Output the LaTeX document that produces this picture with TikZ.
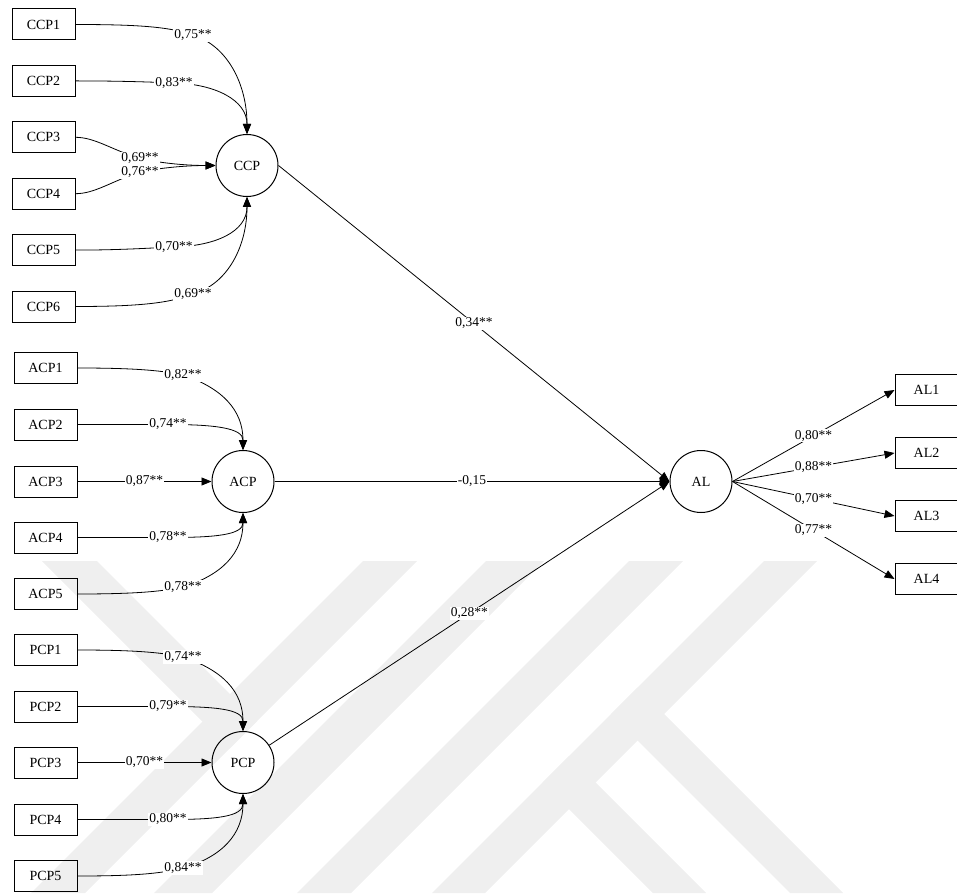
\documentclass[tikz,border=0pt]{standalone}
\usepackage{fontspec}
\setmainfont{Liberation Serif}
\usetikzlibrary{arrows.meta}
\definecolor{wm}{RGB}{239,239,239}
\begin{document}
\begin{tikzpicture}[x=1pt,y=-1pt,
  obs/.style={draw, line width=1pt, minimum width=63pt, minimum height=31pt, inner sep=0pt, font=\fontsize{14}{16}\selectfont},
  lat/.style={draw, circle, line width=1pt, minimum size=62pt, inner sep=0pt, font=\fontsize{14}{16}\selectfont},
  lab/.style={fill=white, inner sep=1pt, font=\fontsize{13.5}{15}\selectfont},
  arr/.style={line width=0.8pt, -{Triangle[length=10pt,width=8pt]}},
  wmark/.style={fill=wm, draw=none},
]
\useasboundingbox (0,0) rectangle (957,893);
% watermark
\fill[wmark] (363,561) -- (417,561) -- (85,893) -- (31,893) -- cycle;
\fill[wmark] (486,561) -- (544,561) -- (212,893) -- (154,893) -- cycle;
\fill[wmark] (629,561) -- (683,561) -- (351,893) -- (297,893) -- cycle;
\fill[wmark] (764,561) -- (817,561) -- (485,893) -- (432,893) -- cycle;
\fill[wmark] (637.5,687.5) -- (843,893) -- (790,893) -- (611,714) -- cycle;
\fill[wmark] (569,756) -- (706,893) -- (653,893) -- (542.5,782.5) -- cycle;
\fill[wmark] (42,561) -- (97,561) -- (257,721) -- (229.5,748.5) -- cycle;

% nodes
\node[obs] (ccp1) at (43.5,24.5) {CCP1};
\node[obs] (ccp2) at (43.5,80.9) {CCP2};
\node[obs] (ccp3) at (43.5,137.3) {CCP3};
\node[obs] (ccp4) at (43.5,193.7) {CCP4};
\node[obs] (ccp5) at (43.5,250.1) {CCP5};
\node[obs] (ccp6) at (43.5,306.5) {CCP6};
\node[lat] (ccp) at (247,165.5) {CCP};

\node[obs] (acp1) at (45.5,368) {ACP1};
\node[obs] (acp2) at (45.5,424.5) {ACP2};
\node[obs] (acp3) at (45.5,481.5) {ACP3};
\node[obs] (acp4) at (45.5,537.5) {ACP4};
\node[obs] (acp5) at (45.5,594) {ACP5};
\node[lat] (acp) at (243,481.5) {ACP};

\node[obs] (pcp1) at (45.5,650) {PCP1};
\node[obs] (pcp2) at (45.5,706.5) {PCP2};
\node[obs] (pcp3) at (45.5,762.5) {PCP3};
\node[obs] (pcp4) at (45.5,819.5) {PCP4};
\node[obs] (pcp5) at (45.5,876) {PCP5};
\node[lat] (pcp) at (243,762.5) {PCP};

\node[lat] (al) at (701,481.5) {AL};
\node[obs] (al1) at (926.5,390) {AL1};
\node[obs] (al2) at (926.5,453) {AL2};
\node[obs] (al3) at (926.5,516) {AL3};
\node[obs] (al4) at (926.5,579) {AL4};

% CCP indicators
\draw[arr] (ccp1.east) .. controls (140,24.5) and (170,27) .. (193,35) node[lab]{0,75**} .. controls (228,46) and (247,85) .. (ccp.north);
\draw[arr] (ccp2.east) .. controls (120,80.9) and (150,82) .. (174,83) node[lab]{0,83**} .. controls (215,84) and (247,100) .. (ccp.north);
\draw[arr] (ccp3.east) .. controls (95,137.3) and (112,150) .. (140,158.5) node[lab]{0,69**} .. controls (165,164) and (190,165.5) .. (ccp.west);
\draw[arr] (ccp4.east) .. controls (95,193.7) and (112,181) .. (140,172) node[lab]{0,76**} .. controls (165,167) and (190,165.5) .. (ccp.west);
\draw[arr] (ccp5.east) .. controls (120,250.1) and (150,248) .. (174,247) node[lab]{0,70**} .. controls (215,246) and (247,232) .. (ccp.south);
\draw[arr] (ccp6.east) .. controls (140,306.5) and (170,303) .. (193,294) node[lab]{0,69**} .. controls (228,284) and (247,246) .. (ccp.south);

% ACP indicators
\draw[arr] (acp1.east) .. controls (130,368) and (160,370) .. (183,375) node[lab]{0,82**} .. controls (222,388) and (243,410) .. (acp.north);
\draw[arr] (acp2.east) -- (168,424.5) node[lab]{0,74**} .. controls (215,424.5) and (243,428) .. (acp.north);
\draw[arr] (acp3.east) -- node[lab]{0,87**} (acp.west);
\draw[arr] (acp4.east) -- (168,537.5) node[lab]{0,78**} .. controls (215,537.5) and (243,535) .. (acp.south);
\draw[arr] (acp5.east) .. controls (130,594) and (160,592) .. (183,587) node[lab]{0,78**} .. controls (222,575) and (243,553) .. (acp.south);

% PCP indicators
\draw[arr] (pcp1.east) .. controls (130,650) and (160,652) .. (183,657) node[lab]{0,74**} .. controls (222,670) and (243,691) .. (pcp.north);
\draw[arr] (pcp2.east) -- (168,706.5) node[lab]{0,79**} .. controls (215,706.5) and (243,709) .. (pcp.north);
\draw[arr] (pcp3.east) -- node[lab]{0,70**} (pcp.west);
\draw[arr] (pcp4.east) -- (168,819.5) node[lab]{0,80**} .. controls (215,819.5) and (243,817) .. (pcp.south);
\draw[arr] (pcp5.east) .. controls (130,876) and (160,874) .. (183,868) node[lab]{0,84**} .. controls (222,857) and (243,834) .. (pcp.south);

% structural paths
\draw[arr] (ccp.east) -- node[lab]{0,34**} (al.west);
\draw[arr] (acp) -- node[lab]{-0,15} (al.west);
\draw[arr] (pcp) -- node[lab]{0,28**} (al.west);

% AL indicators
\draw[arr] (al.east) -- node[lab]{0,80**} (al1.west);
\draw[arr] (al.east) -- node[lab]{0,88**} (al2.west);
\draw[arr] (al.east) -- node[lab]{0,70**} (al3.west);
\draw[arr] (al.east) -- node[lab]{0,77**} (al4.west);
\end{tikzpicture}
\end{document}
